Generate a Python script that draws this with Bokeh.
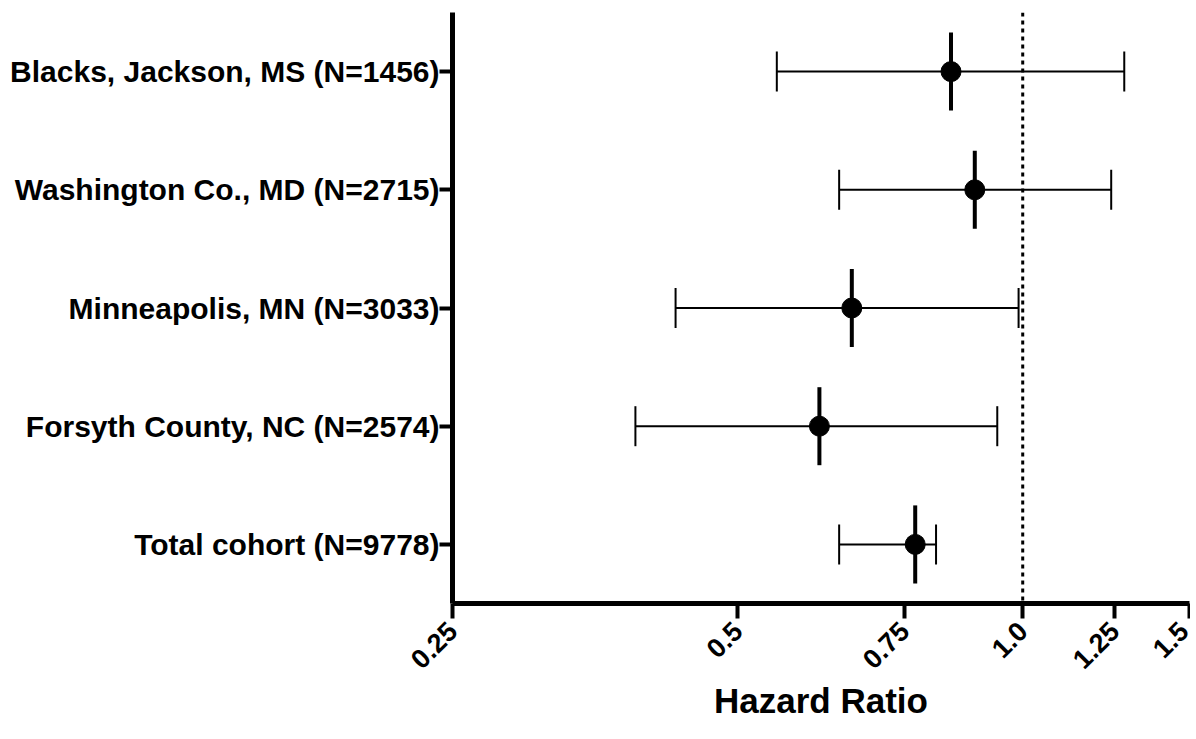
import math
from bokeh.plotting import figure
from bokeh.models import FactorRange, Range1d, FixedTicker, Span, ColumnDataSource
from bokeh.embed import file_html
from bokeh.resources import INLINE

# Data
labels = ["Blacks, Jackson, MS (N=1456)", "Washington Co., MD (N=2715)",
          "Minneapolis, MN (N=3033)", "Forsyth County, NC (N=2574)",
          "Total cohort (N=9778)"]
hr = [0.84, 0.89, 0.66, 0.61, 0.77]
lo = [0.55, 0.64, 0.43, 0.39, 0.64]
hi = [1.28, 1.24, 0.99, 0.94, 0.81]
x_ticks = [0.25, 0.5, 0.75, 1.0, 1.25, 1.5]
x_tick_labels = ["0.25", "0.5", "0.75", "1.0", "1.25", "1.5"]
ref_line = 1.0

src = ColumnDataSource(dict(label=labels, hr=hr, lo=lo, hi=hi))

FONT = "Liberation Sans"

p = figure(width=1190, height=735, output_backend="svg", toolbar_location=None,
           x_axis_type="log", x_range=Range1d(0.25, 1.5),
           y_range=FactorRange(factors=labels[::-1]),
           min_border_left=452, min_border_right=1, min_border_top=12,
           min_border_bottom=132)

p.outline_line_color = None
p.xgrid.visible = False
p.ygrid.visible = False
p.background_fill_color = "white"
p.border_fill_color = "white"

# X axis
xa = p.xaxis[0]
xa.ticker = FixedTicker(ticks=x_ticks)
xa.major_label_overrides = {t: s for t, s in zip(x_ticks, x_tick_labels)}
xa.axis_line_width = 5
xa.axis_line_color = "black"
xa.major_tick_line_width = 4
xa.major_tick_out = 15
xa.major_tick_in = 0
xa.minor_tick_line_color = None
xa.major_label_orientation = math.pi / 4
xa.major_label_text_font = FONT
xa.major_label_text_font_style = "bold"
xa.major_label_text_font_size = "27px"
xa.major_label_text_color = "black"
xa.major_label_standoff = 8
xa.axis_label = "Hazard Ratio"
xa.axis_label_text_font = FONT
xa.axis_label_text_font_style = "bold"
xa.axis_label_text_font_size = "35px"
xa.axis_label_text_color = "black"
xa.axis_label_standoff = 1

# Y axis
ya = p.yaxis[0]
ya.axis_line_width = 5
ya.axis_line_color = "black"
ya.major_tick_line_width = 4
ya.major_tick_out = 13
ya.major_tick_in = 0
ya.minor_tick_line_color = None
ya.major_label_text_font = FONT
ya.major_label_text_font_style = "bold"
ya.major_label_text_font_size = "30px"
ya.major_label_text_color = "black"
ya.major_label_standoff = 0

# Reference line
p.add_layout(Span(location=ref_line, dimension="height", line_color="black",
                  line_width=3, line_dash="4 4"))

# Confidence intervals
p.segment(x0="lo", y0="label", x1="hi", y1="label", source=src,
          line_color="black", line_width=2)
p.scatter(x="lo", y="label", source=src, marker="dash", angle=math.pi / 2,
          size=40, line_color="black", line_width=2)
p.scatter(x="hi", y="label", source=src, marker="dash", angle=math.pi / 2,
          size=40, line_color="black", line_width=2)
# Point estimates
p.scatter(x="hr", y="label", source=src, marker="dash", angle=math.pi / 2,
          size=78, line_color="black", line_width=4)
p.scatter(x="hr", y="label", source=src, marker="circle", size=20,
          fill_color="black", line_color="black")

open("out.html", "w").write(file_html(p, INLINE))
